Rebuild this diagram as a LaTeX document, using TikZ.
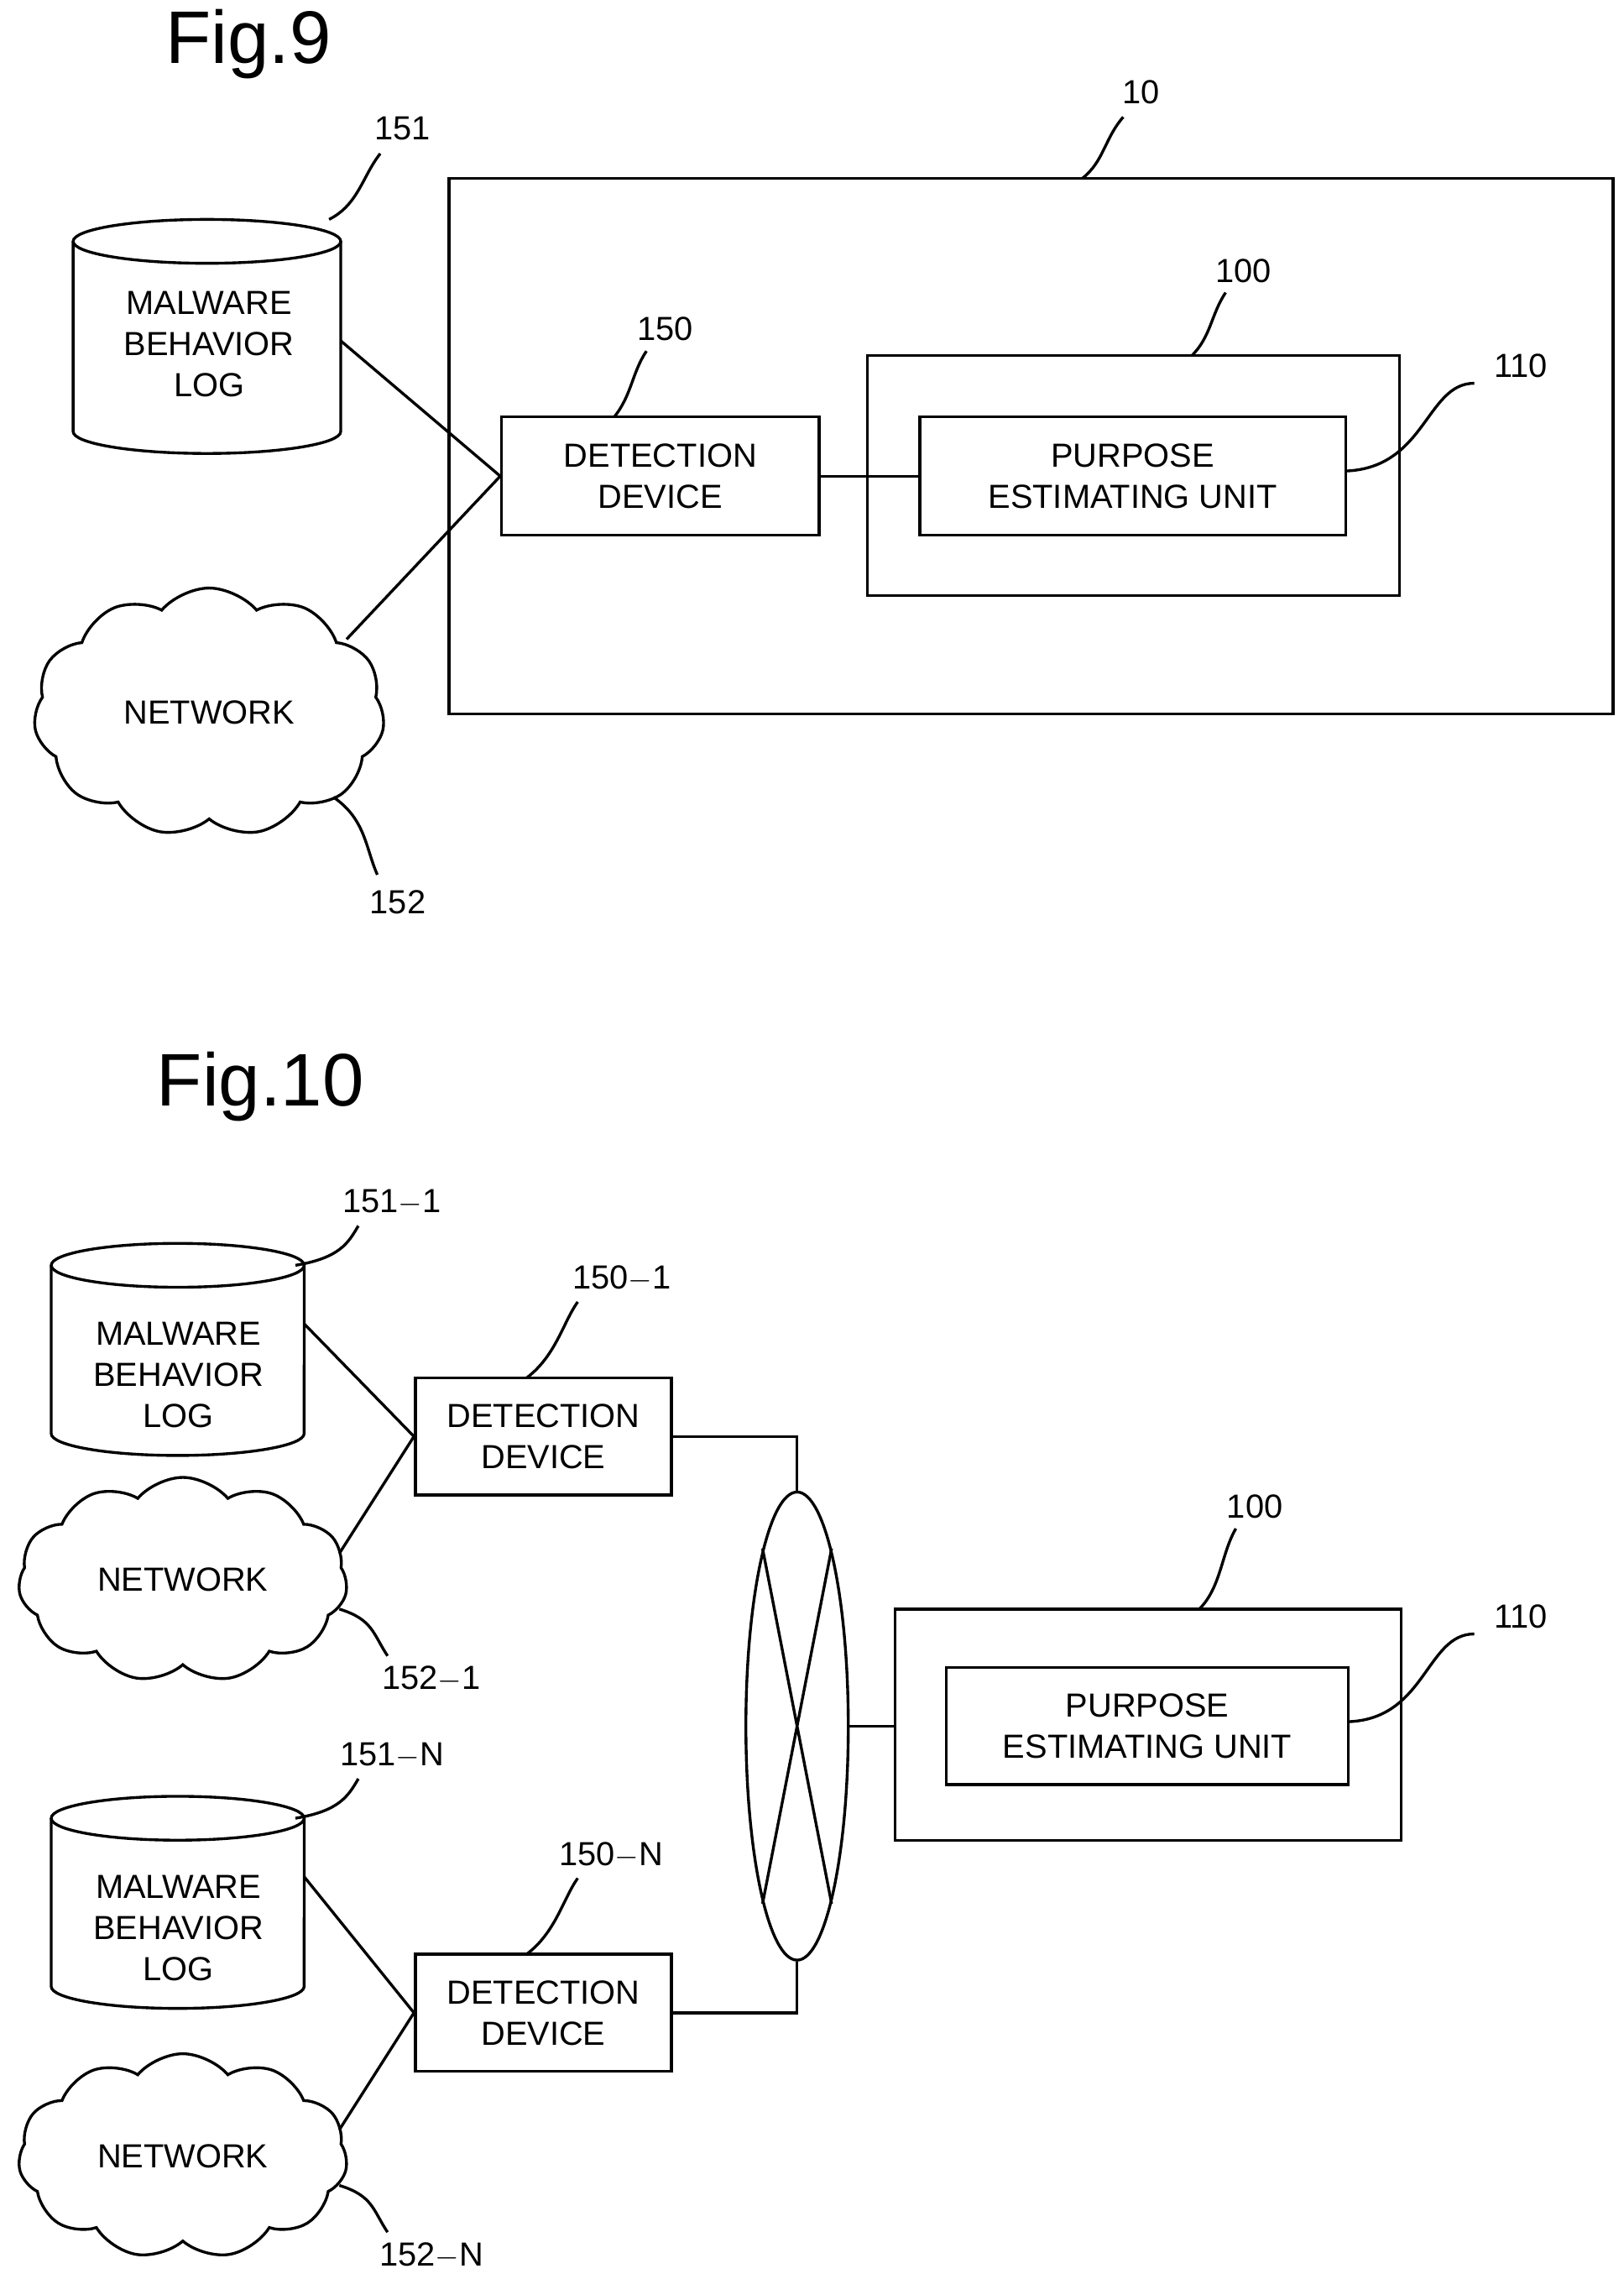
\documentclass[tikz,border=0pt]{standalone}
\usepackage{fontspec}
\setmainfont{Liberation Sans}
\usetikzlibrary{shapes.symbols,shapes.geometric}

\begin{document}
\begin{tikzpicture}[x=0.02cm, y=-0.02cm, line width=1.1pt,
	box/.style={draw, align=center, font=\fontsize{13}{16}\selectfont},
	frame/.style={draw},
	lbl/.style={font=\fontsize{13}{15}\selectfont},
	ttl/.style={font=\fontsize{29}{33}\selectfont},
	net/.style={draw, cloud, cloud puffs=11, cloud puff arc=100, aspect=1.5, font=\fontsize{13}{16}\selectfont},
	txt/.style={align=center, font=\fontsize{13}{16}\selectfont, inner sep=0pt}]
	\useasboundingbox (0,0) rectangle (1110,1558);
	% Fig.9
	\node[ttl] (t9) at (170,30) {Fig.9};
	\draw (307,122) rectangle (1103,488);
	\node[lbl] (l10) at (780,63) {10};
	\draw (768,80) .. controls (755,95) and (755,110) .. (740,122);
	\draw (593,243) rectangle (957,407);
	\node[lbl] (l100) at (850,185) {100};
	\draw (838,200) .. controls (828,215) and (828,230) .. (815,243);
	\node[box, minimum width=217*0.02cm, minimum height=81*0.02cm] (det) at (451.5,325.5) {DETECTION\\DEVICE};
	\node[lbl] (l150) at (455,225) {150};
	\draw (442,240) .. controls (432,255) and (432,270) .. (420,285);
	\node[box, minimum width=291*0.02cm, minimum height=81*0.02cm] (peu) at (774.5,325.5) {PURPOSE\\ESTIMATING UNIT};
	\node[lbl] (l110) at (1040,250) {110};
	\draw (1008,262) .. controls (975,262) and (975,320) .. (920,322);
	% cylinder 151
	\draw (50,165) -- (50,295) arc[start angle=180, end angle=360, x radius=1.83cm, y radius=0.3cm] -- (233,165);
	\draw (141.5,165) ellipse[x radius=1.83cm, y radius=0.3cm];
	\node[txt] (log) at (143,235) {MALWARE\\BEHAVIOR\\LOG};
	\coordinate (logR) at (233,233);
	\node[lbl] (l151) at (275,88) {151};
	\draw (260,105) .. controls (248,120) and (245,140) .. (225,150);
	\node[net, minimum width=240*0.02cm, minimum height=170*0.02cm] (cloud) at (143,487) {NETWORK};
	\coordinate (cloudR) at (237,437);
	\node[lbl] (l152) at (272,617) {152};
	\draw (258,598) .. controls (250,580) and (250,560) .. (228,545);
	\draw (logR) -- (det.west) -- (cloudR);
	\draw (det) -- (peu);
	% Fig.10
	\node[ttl] (t10) at (178,743) {Fig.10};
	\foreach \nm/\yt/\cy/\dy/\sfx/\lx in {a/850/940/982/1/425, b/1228/1318/1376/N/418}{
		\draw (35,\yt+15) -- (35,\yt+130) arc[start angle=180, end angle=360, x radius=1.73cm, y radius=0.3cm] -- (208,\yt+15);
		\draw (121.5,\yt+15) ellipse[x radius=1.73cm, y radius=0.3cm];
		\node[txt] (log\nm) at (122,\cy) {MALWARE\\BEHAVIOR\\LOG};
		\coordinate (logR\nm) at (208,\cy-35);
		\node[lbl] (l151\nm) at (268,\yt-28) {151$-$\sfx};
		\draw (245,\yt-12) .. controls (238,\yt) and (232,\yt+10) .. (202,\yt+15);
		\node[box, minimum width=175*0.02cm, minimum height=80*0.02cm] (det\nm) at (371.5,\dy) {DETECTION\\DEVICE};
		\node[lbl] (l150\nm) at (\lx,\dy-108) {150$-$\sfx};
		\draw (395,\dy-92) .. controls (385,\dy-78) and (380,\dy-55) .. (360,\dy-40);
		\node[net, minimum width=225*0.02cm, minimum height=118*0.02cm] (cloud\nm) at (125,\dy+98) {NETWORK};
		\coordinate (cloudR\nm) at (232,\dy+80);
		\node[lbl] (l152\nm) at (295,\dy+166) {152$-$\sfx};
		\draw (265,\dy+150) .. controls (255,\dy+135) and (255,\dy+125) .. (232,\dy+118);
		\draw (logR\nm) -- (det\nm.west) -- (cloudR\nm);
	}
	\node[draw, ellipse, minimum width=70*0.02cm, minimum height=320*0.02cm, inner sep=0pt] (hub) at (545,1180) {};
	\draw (hub.101) -- (hub.281) (hub.79) -- (hub.259);
	\draw (deta.east) -| (hub.north);
	\draw (detb.east) -| (hub.south);
	\draw (612,1100) rectangle (958,1258);
	\node[lbl] (m100) at (858,1030) {100};
	\draw (845,1045) .. controls (835,1062) and (835,1085) .. (820,1100);
	\node[box, minimum width=275*0.02cm, minimum height=80*0.02cm] (peu2) at (784.5,1180) {PURPOSE\\ESTIMATING UNIT};
	\node[lbl] (m110) at (1040,1105) {110};
	\draw (1008,1117) .. controls (975,1117) and (975,1175) .. (922,1177);
	\draw (hub.east) -- (612,1180);
\end{tikzpicture}
\end{document}
